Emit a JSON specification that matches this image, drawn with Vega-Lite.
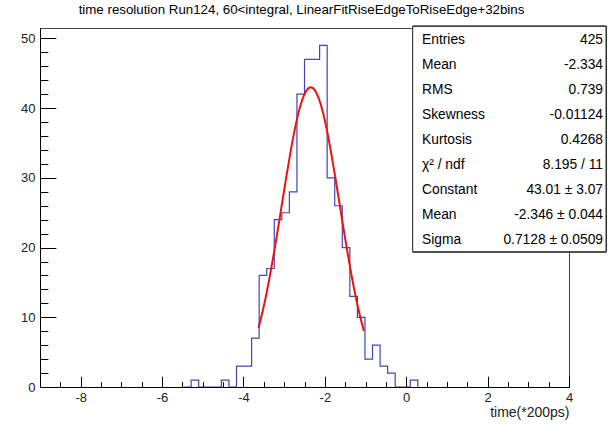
{
  "$schema": "https://vega.github.io/schema/vega-lite/v6.json",
  "width": 529,
  "height": 359,
  "autosize": {"type": "none"},
  "padding": {"left": 40, "top": 28, "right": 39, "bottom": 41},
  "background": "white",
  "config": {
    "view": {"stroke": "#444", "strokeWidth": 1},
    "font": "Liberation Sans"
  },
  "title": {
    "text": "time resolution Run124, 60<integral, LinearFitRiseEdgeToRiseEdge+32bins",
    "font": "Liberation Sans",
    "fontSize": 13.3,
    "fontWeight": "normal",
    "color": "#000",
    "anchor": "middle",
    "dx": -3,
    "offset": 10
  },
  "datasets": {
    "hist": [
      {"k": 19, "x0": -5.4714, "x1": -5.2857, "count": 0},
      {"k": 20, "x0": -5.2857, "x1": -5.1, "count": 1},
      {"k": 21, "x0": -5.1, "x1": -4.9143, "count": 0},
      {"k": 22, "x0": -4.9143, "x1": -4.7286, "count": 0},
      {"k": 23, "x0": -4.7286, "x1": -4.5429, "count": 0},
      {"k": 24, "x0": -4.5429, "x1": -4.3571, "count": 1},
      {"k": 25, "x0": -4.3571, "x1": -4.1714, "count": 0},
      {"k": 26, "x0": -4.1714, "x1": -3.9857, "count": 3},
      {"k": 27, "x0": -3.9857, "x1": -3.8, "count": 3},
      {"k": 28, "x0": -3.8, "x1": -3.6143, "count": 7},
      {"k": 29, "x0": -3.6143, "x1": -3.4286, "count": 16},
      {"k": 30, "x0": -3.4286, "x1": -3.2429, "count": 17},
      {"k": 31, "x0": -3.2429, "x1": -3.0571, "count": 24},
      {"k": 32, "x0": -3.0571, "x1": -2.8714, "count": 25},
      {"k": 33, "x0": -2.8714, "x1": -2.6857, "count": 28},
      {"k": 34, "x0": -2.6857, "x1": -2.5, "count": 42},
      {"k": 35, "x0": -2.5, "x1": -2.3143, "count": 47},
      {"k": 36, "x0": -2.3143, "x1": -2.1286, "count": 47},
      {"k": 37, "x0": -2.1286, "x1": -1.9429, "count": 49},
      {"k": 38, "x0": -1.9429, "x1": -1.7571, "count": 30},
      {"k": 39, "x0": -1.7571, "x1": -1.5714, "count": 26},
      {"k": 40, "x0": -1.5714, "x1": -1.3857, "count": 20},
      {"k": 41, "x0": -1.3857, "x1": -1.2, "count": 13},
      {"k": 42, "x0": -1.2, "x1": -1.0143, "count": 10},
      {"k": 43, "x0": -1.0143, "x1": -0.8286, "count": 4},
      {"k": 44, "x0": -0.8286, "x1": -0.6429, "count": 6},
      {"k": 45, "x0": -0.6429, "x1": -0.4571, "count": 3},
      {"k": 46, "x0": -0.4571, "x1": -0.2714, "count": 2},
      {"k": 47, "x0": -0.2714, "x1": -0.0857, "count": 0},
      {"k": 48, "x0": -0.0857, "x1": 0.1, "count": 0},
      {"k": 49, "x0": 0.1, "x1": 0.2857, "count": 1},
      {"k": 50, "x0": 0.2857, "x1": 0.4714, "count": 0}
    ],
    "fit": [
      {"x": -3.63, "y": 8.49},
      {"x": -3.546, "y": 10.426},
      {"x": -3.446, "y": 13.075},
      {"x": -3.346, "y": 16.076},
      {"x": -3.246, "y": 19.381},
      {"x": -3.146, "y": 22.911},
      {"x": -3.046, "y": 26.555},
      {"x": -2.946, "y": 30.179},
      {"x": -2.846, "y": 33.63},
      {"x": -2.746, "y": 36.744},
      {"x": -2.646, "y": 39.365},
      {"x": -2.546, "y": 41.35},
      {"x": -2.446, "y": 42.589},
      {"x": -2.346, "y": 43.01},
      {"x": -2.246, "y": 42.589},
      {"x": -2.146, "y": 41.35},
      {"x": -2.046, "y": 39.365},
      {"x": -1.946, "y": 36.744},
      {"x": -1.846, "y": 33.63},
      {"x": -1.746, "y": 30.179},
      {"x": -1.646, "y": 26.555},
      {"x": -1.546, "y": 22.911},
      {"x": -1.446, "y": 19.381},
      {"x": -1.346, "y": 16.076},
      {"x": -1.246, "y": 13.075},
      {"x": -1.146, "y": 10.426},
      {"x": -1.04, "y": 8.03}
    ],
    "stats": [
      {"row": 1, "name": "Entries", "val": "425"},
      {"row": 2, "name": "Mean", "val": "-2.334"},
      {"row": 3, "name": "RMS", "val": "0.739"},
      {"row": 4, "name": "Skewness", "val": "-0.01124"},
      {"row": 5, "name": "Kurtosis", "val": "0.4268"},
      {"row": 6, "name": "χ² / ndf", "val": "8.195 / 11"},
      {"row": 7, "name": "Constant", "val": "43.01 ± 3.07"},
      {"row": 8, "name": "Mean", "val": "-2.346 ± 0.044"},
      {"row": 9, "name": "Sigma", "val": "0.7128 ± 0.0509"}
    ]
  },
  "layer": [
    {
      "layer": [
        {
          "data": {"name": "hist"},
          "mark": {"type": "line", "color": "#4444bb", "strokeWidth": 1.2, "interpolate": "step-after"},
          "encoding": {
            "x": {
              "field": "x0", "type": "quantitative",
              "scale": {"domain": [-9, 4], "nice": false, "zero": false},
              "axis": {
                "values": [-8.5, -8, -7.5, -7, -6.5, -6, -5.5, -5, -4.5, -4, -3.5, -3, -2.5, -2, -1.5, -1, -0.5, 0, 0.5, 1, 1.5, 2, 2.5, 3, 3.5, 4],
                "tickCount": 200,
                "labelExpr": "datum.value % 2 === 0 ? '' + datum.value : ''",
                "tickSize": {"condition": {"test": "datum.value % 2 === 0", "value": -10.8}, "value": -5.4},
                "labelPadding": 15,
                "labelFlush": false,
                "labelOverlap": false,
                "labelFont": "Liberation Sans",
                "labelFontSize": 13,
                "labelColor": "#222",
                "tickColor": "#000",
                "domainColor": "#000",
                "grid": false,
                "zindex": 1,
                "title": "time(*200ps)",
                "titleFont": "Liberation Sans",
                "titleFontSize": 14,
                "titleFontWeight": "normal",
                "titleColor": "#222",
                "titleAlign": "right",
                "titleBaseline": "top",
                "titleX": 529,
                "titleY": 18
              }
            },
            "y": {
              "field": "count", "type": "quantitative",
              "scale": {"domain": [0, 51.5], "nice": false},
              "axis": {
                "values": [0, 2, 4, 6, 8, 10, 12, 14, 16, 18, 20, 22, 24, 26, 28, 30, 32, 34, 36, 38, 40, 42, 44, 46, 48, 50],
                "tickCount": 200,
                "labelExpr": "datum.value % 10 === 0 ? '' + datum.value : ''",
                "tickSize": {"condition": {"test": "datum.value % 10 === 0", "value": -15.9}, "value": -7.9},
                "labelPadding": 20.9,
                "labelFlush": false,
                "labelOverlap": false,
                "labelFont": "Liberation Sans",
                "labelFontSize": 13,
                "labelColor": "#222",
                "tickColor": "#000",
                "domainColor": "#000",
                "grid": false,
                "zindex": 1,
                "title": null
              }
            },
            "order": {"field": "k", "type": "quantitative"}
          }
        },
        {
          "data": {"name": "fit"},
          "mark": {"type": "line", "color": "#ee1111", "strokeWidth": 2, "interpolate": "monotone"},
          "encoding": {
            "x": {"field": "x", "type": "quantitative"},
            "y": {"field": "y", "type": "quantitative"}
          }
        }
      ]
    },
    {
      "data": {"name": "stats"},
      "layer": [
        {
          "mark": {"type": "rect", "fill": "white", "stroke": "#333", "strokeWidth": 1},
          "encoding": {
            "x": {"datum": 0.159, "type": "quantitative"},
            "x2": {"datum": 4.909},
            "y": {"datum": 0.468, "type": "quantitative", "axis": null},
            "y2": {"datum": 9.48}
          }
        },
        {
          "mark": {"type": "text", "align": "left", "baseline": "middle", "font": "Liberation Sans", "fontSize": 13.8, "color": "#000"},
          "encoding": {
            "x": {"datum": 0.388, "type": "quantitative"},
            "y": {"field": "row", "type": "quantitative", "axis": null},
            "text": {"field": "name"}
          }
        },
        {
          "mark": {"type": "text", "align": "right", "baseline": "middle", "font": "Liberation Sans", "fontSize": 13.8, "color": "#000"},
          "encoding": {
            "x": {"datum": 4.836, "type": "quantitative"},
            "y": {"field": "row", "type": "quantitative", "scale": {"domain": [0.532, 14.892], "nice": false, "zero": false, "reverse": true}, "axis": null},
            "text": {"field": "val"}
          }
        }
      ]
    }
  ],
  "resolve": {"scale": {"y": "independent"}}
}
